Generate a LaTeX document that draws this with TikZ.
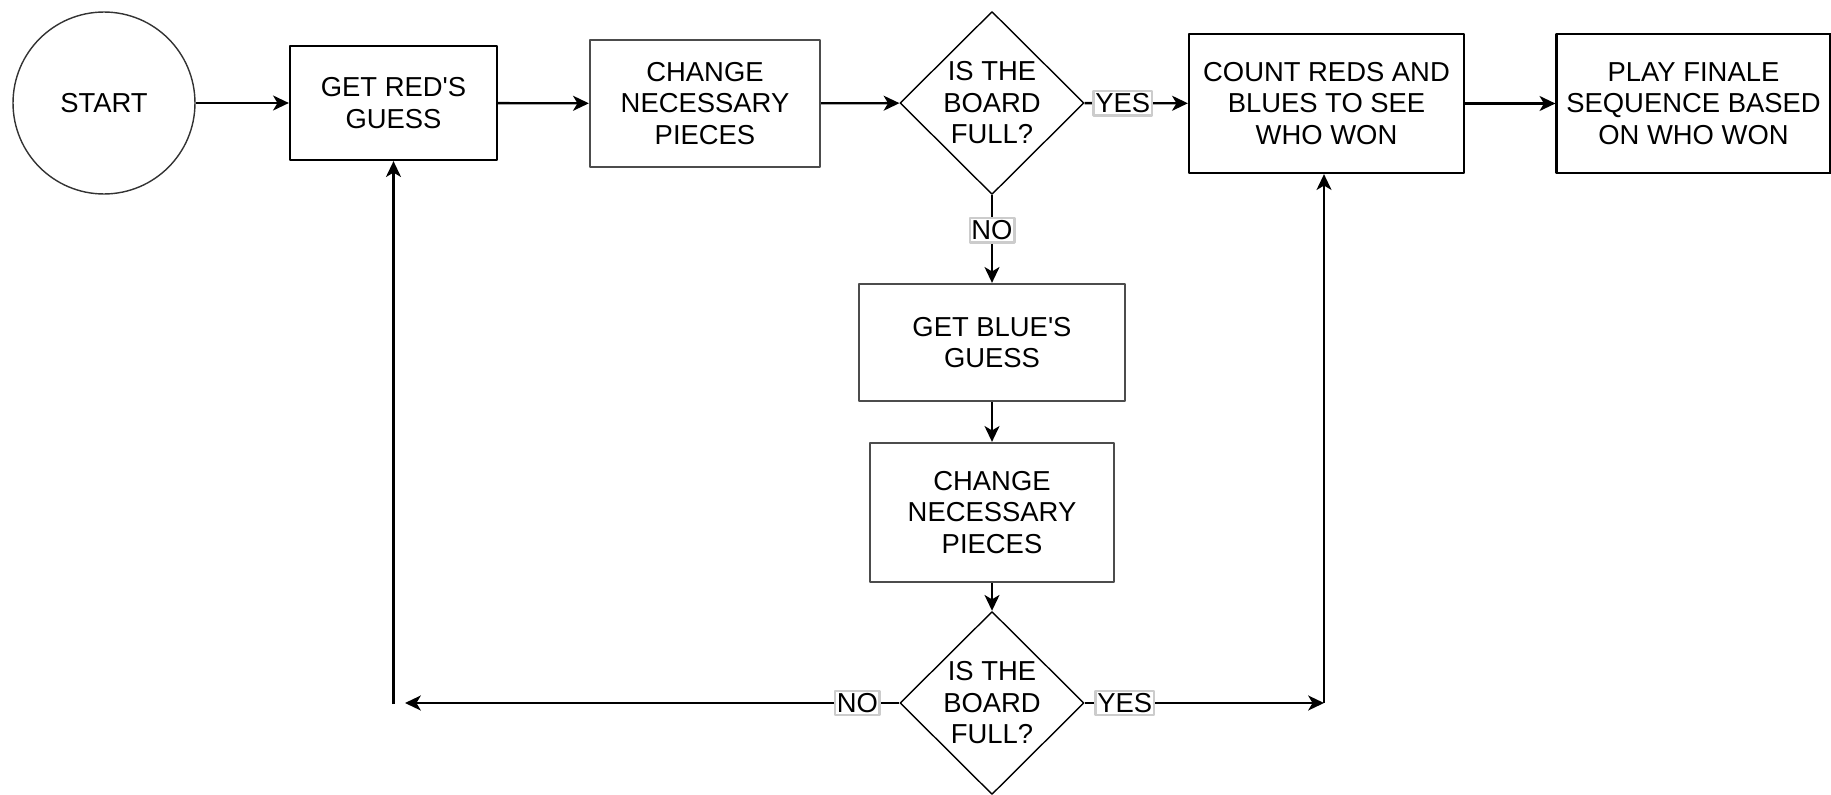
\documentclass[tikz,border=0pt]{standalone}
\usepackage{fontspec}
\setmainfont{Liberation Sans}
\usetikzlibrary{shapes.geometric,arrows.meta}
\begin{document}
\begin{tikzpicture}[x=0.02cm,y=-0.02cm,line join=round,>={Stealth[length=9pt,width=8.5pt,inset=2.5pt]},font=\fontsize{15.6}{17.9}\selectfont]
	\tikzset{proc/.style={draw=black!70,line width=1.3pt,align=center,inner sep=0pt},
		ask/.style={diamond,draw,line width=0.8pt,align=center,inner sep=0pt,minimum width=3.68cm,minimum height=3.66cm},
		lbl/.style={draw=black!20,fill=white,inner sep=1pt,text height=11.5pt,text depth=0.5pt},
		link/.style={->,line width=1.35pt}}
	\useasboundingbox (0,0) rectangle (1831,794);
	% top row
	\node[circle,draw=black!80,line width=0.8pt,minimum size=3.64cm] (start) at (104,103) {START};
	\node[proc,draw=black,minimum width=4.14cm,minimum height=2.28cm] (red) at (393.5,103) {GET RED\textquotesingle S\\GUESS};
	\node[proc,minimum width=4.6cm,minimum height=2.54cm] (change1) at (705,103.5) {CHANGE\\NECESSARY\\PIECES};
	\node[ask] (full1) at (992,103) {IS THE\\BOARD\\FULL?};
	\node[proc,draw=black,minimum width=5.5cm,minimum height=2.78cm] (count) at (1326.5,103.5) {COUNT REDS AND\\BLUES TO SEE\\WHO WON};
	\node[proc,draw=black,minimum width=5.48cm,minimum height=2.78cm] (play) at (1693.5,103.5) {PLAY FINALE\\SEQUENCE BASED\\ON WHO WON};
	% middle column
	\node[proc,minimum width=5.32cm,minimum height=2.34cm] (blue) at (992,342.5) {GET BLUE\textquotesingle S\\GUESS};
	\node[proc,minimum width=4.88cm,minimum height=2.78cm] (change2) at (992,512.5) {CHANGE\\NECESSARY\\PIECES};
	\node[ask] (full2) at (992,703) {IS THE\\BOARD\\FULL?};
	\coordinate (backL) at (405,703);
	\coordinate (backR) at (1324,703);
	\coordinate (loopL) at (393.5,704);
	% connectors
	\draw[link] (start) -- (red);
	\draw[link] (red) -- (change1);
	\draw[link] (change1) -- (full1);
	\draw[link] (full1) -- node[lbl,pos=0.37] {YES} (count);
	\draw[link] (count) -- (play);
	\draw[link] (full1) -- node[lbl,pos=0.4] {NO} (blue);
	\draw[link] (blue) -- (change2);
	\draw[link] (change2) -- (full2);
	\draw[link] (full2) -- node[lbl,pos=0.085] {NO} (backL);
	\draw[link] (full2) -- node[lbl,pos=0.167] {YES} (backR);
	\draw[link] (loopL) -- (red.south);
	\draw[link] (backR) -- (backR |- count.south);
\end{tikzpicture}
\end{document}
